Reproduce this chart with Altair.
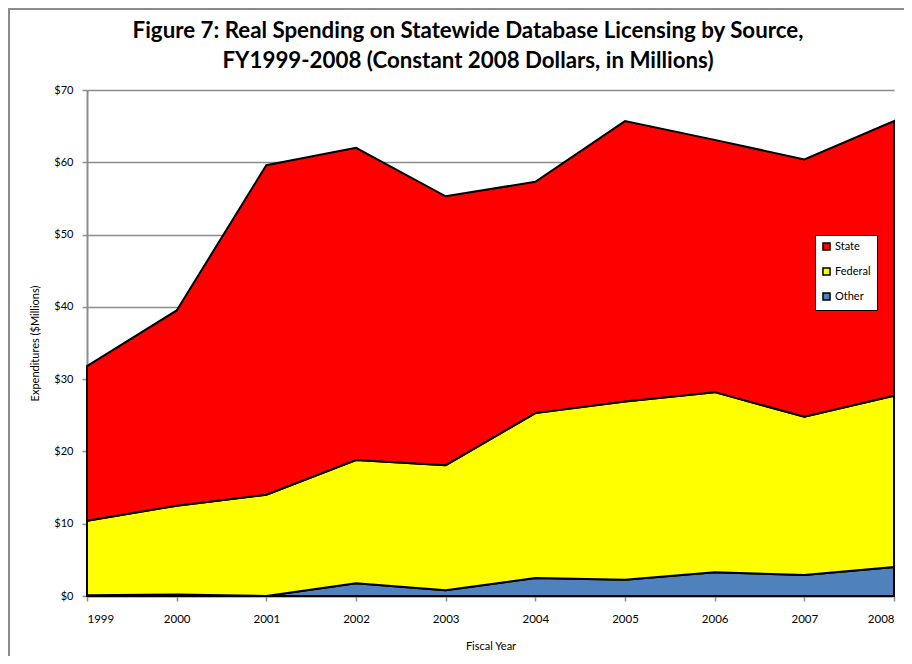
import altair as alt
import pandas as pd

years = [1999, 2000, 2001, 2002, 2003, 2004, 2005, 2006, 2007, 2008]
other = [0.1, 0.2, 0.0, 1.75, 0.8, 2.5, 2.25, 3.3, 2.9, 4.0]
federal = [10.3, 12.3, 14.0, 17.05, 17.3, 22.8, 24.65, 24.9, 21.9, 23.7]
state = [21.4, 27.0, 45.6, 43.2, 37.2, 32.0, 38.8, 34.9, 35.6, 38.0]

series_names = ["State", "Federal", "Other"]
series_colors = ["#FF0000", "#FFFF00", "#4F81BD"]
stack_rank = {"Other": 0, "Federal": 1, "State": 2}

title_lines = ["Figure 7: Real Spending on Statewide Database Licensing by Source,",
               "FY1999-2008 (Constant 2008 Dollars, in Millions)"]

rows = []
for name, vals in [("Other", other), ("Federal", federal), ("State", state)]:
    for y, v in zip(years, vals):
        rows.append({"Year": y, "Source": name, "Value": v, "rank": stack_rank[name]})
df = pd.DataFrame(rows)

FONT = "Lato"
W, H = 807, 506
PAD = {"left": 79, "top": 82, "right": 10, "bottom": 60}

area = alt.Chart(df).mark_area(stroke="black", strokeWidth=2, strokeJoin="miter").encode(
    x=alt.X("Year:Q", scale=alt.Scale(domain=[1999, 2008], nice=False, zero=False),
            axis=alt.Axis(values=years, format="d", title="Fiscal Year", grid=False,
                          domainColor="#8c8c8c", domainWidth=2, tickColor="#8c8c8c",
                          tickWidth=1.5, tickSize=5, labelPadding=12, labelFontSize=11.5,
                          labelColor="#000000", titleFontSize=11, titleFontWeight="normal",
                          titleColor="#000000", titlePadding=16, labelFont=FONT, titleFont=FONT)),
    y=alt.Y("Value:Q", stack="zero", scale=alt.Scale(domain=[0, 70], nice=False),
            axis=alt.Axis(values=[0, 10, 20, 30, 40, 50, 60, 70], format="$,.0f",
                          title="Expenditures ($Millions)", grid=True, gridColor="#8c8c8c",
                          gridWidth=1.5, domainColor="#8c8c8c", domainWidth=2,
                          tickColor="#8c8c8c", tickWidth=1.5, tickSize=5, labelPadding=9,
                          labelFontSize=11, labelColor="#000000", titleFontSize=11,
                          titleFontWeight="normal", titleColor="#000000", titlePadding=13,
                          labelFont=FONT, titleFont=FONT)),
    color=alt.Color("Source:N", scale=alt.Scale(domain=series_names, range=series_colors),
                    legend=alt.Legend(title=None, orient="none", legendX=728, legendY=145,
                                      direction="vertical", fillColor="white",
                                      strokeColor="black", padding=6,
                                      symbolType="square", symbolSize=50,
                                      symbolStrokeColor="black", symbolStrokeWidth=1.5,
                                      symbolOpacity=1, labelFontSize=11, labelFont=FONT,
                                      labelColor="#000000", rowPadding=10, labelOffset=3)),
    order=alt.Order("rank:Q"),
)

frame = alt.Chart(df).mark_rect(fill=None, stroke="#8c8c8c", strokeWidth=3, clip=False).encode(
    x=alt.value(-79), x2=alt.value(W + 80), y=alt.value(-82), y2=alt.value(H + 120)
)

tdf = pd.DataFrame({"line": title_lines, "i": [0, 1]})
title_layers = []
for i, ypix in [(0, -59), (1, -29)]:
    title_layers.append(
        alt.Chart(tdf).transform_filter(alt.datum.i == i).mark_text(
            font=FONT, fontSize=22.3, fontWeight="bold", color="#000000",
            align="center", baseline="middle").encode(
            x=alt.value(381), y=alt.value(ypix), text="line:N")
    )

chart = alt.layer(area, frame, *title_layers).properties(
    width=W, height=H,
    padding=PAD,
    autosize=alt.AutoSizeParams(type="none"),
).configure_view(stroke=None)

chart.save("out.html", embed_options={"renderer": "svg", "actions": False})
